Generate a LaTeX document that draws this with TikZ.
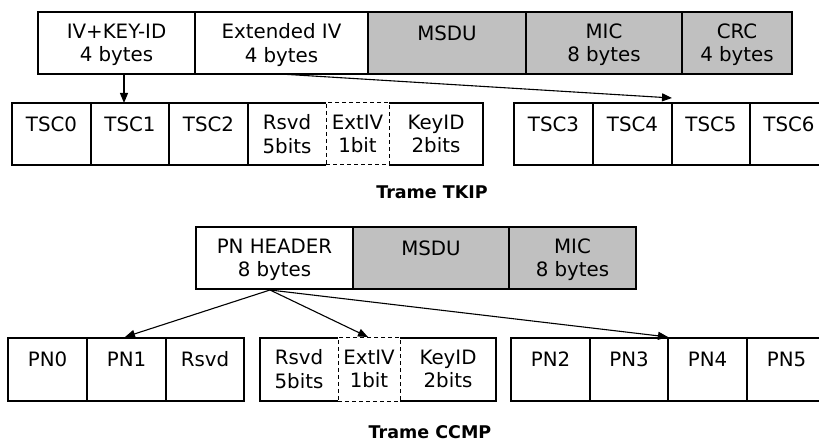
\documentclass[tikz,border=0pt]{standalone}
\usepackage{fontspec}
\setmainfont{DejaVu Sans}
\usetikzlibrary{arrows.meta}
\definecolor{cellgray}{RGB}{192,192,192}
\tikzset{
  cell/.style={draw, line width=1.2pt, inner sep=0pt, outer sep=0pt, anchor=north west},
  opencell/.style={cell, draw=none},
  extcell/.style={cell, line width=1pt, dash pattern=on 4pt off 3pt},
  celltext/.style={font=\fontsize{19.8}{23.5}\selectfont, align=center, inner sep=0pt, anchor=north, execute at begin node=\strut},
  titletext/.style={font=\fontsize{17.5}{20}\selectfont\bfseries, inner sep=0pt},
  link/.style={line width=1.1pt, -{Triangle[length=10pt,width=8pt]}},
  side/.style={line width=1.2pt}
}
% #1 style, #2 name, #3 x1, #4 x2, #5 y1, #6 y2, #7 text
\newcommand\fcell[7]{%
  \node[#1, minimum width={(#4-#3)*1pt}, minimum height={(#6-#5)*1pt}] (#2) at (#3,#5) {};
  \node[celltext] (#2-t) at ([yshift=-11.5pt]#2.north) {#7};}
\begin{document}
\begin{tikzpicture}[x=1pt,y=-1pt]
\useasboundingbox (0,0) rectangle (819,443);
% ---- TKIP frame
\fcell{cell}{ivkey}{38}{195}{12}{74}{IV+KEY-ID\\4 bytes}
\fcell{cell}{extiv}{195}{368}{12}{74}{Extended IV\\4 bytes}
\fcell{cell,fill=cellgray}{msduA}{368}{526}{12}{74}{MSDU}
\fcell{cell,fill=cellgray}{micA}{526}{682}{12}{74}{MIC\\8 bytes}
\fcell{cell,fill=cellgray}{crc}{682}{792}{12}{74}{CRC\\4 bytes}
% TKIP IV fields
\fcell{cell}{tsc0}{12}{91}{103}{165}{TSC0}
\fcell{cell}{tsc1}{91}{169}{103}{165}{TSC1}
\fcell{cell}{tsc2}{169}{248}{103}{165}{TSC2}
\fcell{opencell}{rsvdA}{248}{326}{103}{165}{Rsvd\\5bits}
\fcell{extcell}{extA}{326}{389}{103}{165}{ExtIV\\1bit}
\fcell{opencell}{keyA}{389}{483}{103}{165}{KeyID\\2bits}
\draw[side] (rsvdA.north east) -- (rsvdA.north west) -- (rsvdA.south west) -- (rsvdA.south east);
\draw[side] (keyA.north west) -- (keyA.north east) -- (keyA.south east) -- (keyA.south west);
\fcell{cell}{tsc3}{514}{593}{103}{165}{TSC3}
\fcell{cell}{tsc4}{593}{672}{103}{165}{TSC4}
\fcell{cell}{tsc5}{672}{750}{103}{165}{TSC5}
\fcell{cell}{tsc6}{750}{828}{103}{165}{TSC6}
\node[titletext] (tkip) at (432,192) {Trame TKIP};
\coordinate (a1s) at (124,74);
\coordinate (a1e) at (124,103);
\coordinate (a2s) at (280,74);
\coordinate (a2e) at (672,98);
\draw[link] (a1s) -- (a1e);
\draw[link] (a2s) -- (a2e);
% ---- CCMP frame
\fcell{cell}{pnh}{196}{353}{227}{289}{PN HEADER\\8 bytes}
\fcell{cell,fill=cellgray}{msduB}{353}{509}{227}{289}{MSDU}
\fcell{cell,fill=cellgray}{micB}{509}{636}{227}{289}{MIC\\8 bytes}
\fcell{cell}{pn0}{8}{87}{338}{401}{PN0}
\fcell{cell}{pn1}{87}{166}{338}{401}{PN1}
\fcell{cell}{rsvdC}{166}{244}{338}{401}{Rsvd}
\fcell{opencell}{rsvdB}{260}{338}{338}{401}{Rsvd\\5bits}
\fcell{extcell}{extB}{338}{400}{338}{401}{ExtIV\\1bit}
\fcell{opencell}{keyB}{400}{496}{338}{401}{KeyID\\2bits}
\draw[side] (rsvdB.north east) -- (rsvdB.north west) -- (rsvdB.south west) -- (rsvdB.south east);
\draw[side] (keyB.north west) -- (keyB.north east) -- (keyB.south east) -- (keyB.south west);
\fcell{cell}{pn2}{511}{590}{338}{401}{PN2}
\fcell{cell}{pn3}{590}{668}{338}{401}{PN3}
\fcell{cell}{pn4}{668}{747}{338}{401}{PN4}
\fcell{cell}{pn5}{747}{826}{338}{401}{PN5}
\node[titletext] (ccmp) at (430,432) {Trame CCMP};
\coordinate (bs) at (270,290);
\coordinate (b1) at (125,337);
\coordinate (b2) at (368,337);
\coordinate (b3) at (668,337);
\draw[link] (bs) -- (b1);
\draw[link] (bs) -- (b2);
\draw[link] (bs) -- (b3);
\end{tikzpicture}
\end{document}
